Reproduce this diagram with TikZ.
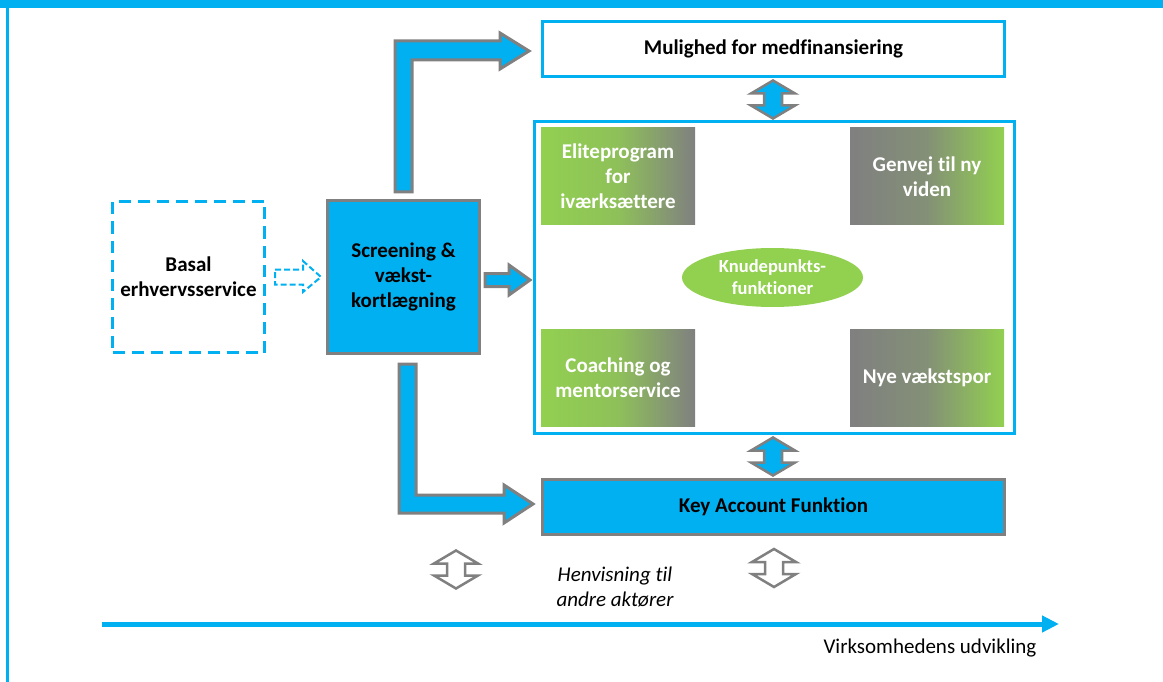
\documentclass[tikz,border=0pt]{standalone}
\usepackage{fontspec}
\setmainfont{Carlito}[Ligatures=NoCommon]
\usepackage{tikz}
\usetikzlibrary{positioning,shapes.geometric,arrows.meta,calc}
\definecolor{kblue}{HTML}{00B0F0}
\definecolor{kgreen}{HTML}{92D050}
\definecolor{kgray}{HTML}{808080}

\begin{document}
\begin{tikzpicture}[x=1pt, y=-1pt,
      box/.style={
        shape=rectangle,
        inner sep=2pt,
        align=center,
        font=\fontsize{21}{25}\selectfont\bfseries,
      },
      bluebox/.style={box, draw=kgray, line width=3pt, fill=kblue},
      framebox/.style={box, draw=kblue, line width=3pt, fill=white},
      dashbox/.style={box, draw=kblue, line width=2.5pt, dash pattern=on 12pt off 7pt},
      greenbox/.style={box, text=white, minimum width=154pt, minimum height=97pt,
        left color=kgreen, right color=kgray, middle color=kgreen!80!kgray},
      graybox/.style={box, text=white, minimum width=154pt, minimum height=97pt,
        left color=kgray, right color=kgreen, middle color=kgray!80!kgreen},
      hub/.style={ellipse, fill=kgreen, text=white, inner sep=0pt, align=center,
        minimum width=181pt, minimum height=59pt,
        font=\fontsize{18.5}{22}\selectfont\bfseries},
      blockarrow/.style={draw=kgray, fill=kblue, line width=3pt, line join=miter},
      dblarrow/.pic={
        \path[pic actions] (0,-19) -- (22,-6) -- (9,-6) -- (9,6) -- (22,6) -- (0,19)
          -- (-22,6) -- (-9,6) -- (-9,-6) -- (-22,-6) -- cycle;
      }]
      \useasboundingbox (0,0) rectangle (1163,682);
      % frame of the slide
      \fill[kblue] (0,0) rectangle (1163,8.5);
      \fill[kblue] (6,0) rectangle (9,682);

      % main boxes
      \node[dashbox, minimum width=152pt, minimum height=151pt] (basal) at (188.5,277)
        {Basal\\erhvervsservice};
      \node[bluebox, minimum width=152pt, minimum height=153pt] (scr) at (403.5,277)
        {Screening \&\\vækst-\\kortlægning};
      \node[framebox, minimum width=462pt, minimum height=55pt] (mul) at (773.5,49)
        {Mulighed for medfinansiering};
      \node[framebox, minimum width=480pt, minimum height=312pt] (frame) at (774.5,277.5) {};
      \node[bluebox, minimum width=462pt, minimum height=55pt] (key) at (773.5,507)
        {Key Account Funktion};

      % inside the hub
      \node[greenbox] (elite) at (618,176.5) {Eliteprogram\\for\\iværksættere};
      \node[graybox] (genvej) at (927,176.5) {Genvej til ny\\viden};
      \node[greenbox] (coach) at (618,377.5) {Coaching og\\mentorservice};
      \node[graybox] (spor) at (927,377.5) {Nye vækstspor};
      \node[hub] (knude) at (772.5,277.5) {Knudepunkts-\\funktioner};

      % block arrows
      \draw[blockarrow] (395,192) -- (395,41) -- (500,41) -- (500,33) -- (529,51)
        -- (500,69) -- (500,60) -- (412,60) -- (412,192) -- cycle;
      \draw[blockarrow] (399,364) -- (399,513) -- (504,513) -- (504,523) -- (533,504)
        -- (504,485) -- (504,495) -- (416,495) -- (416,364) -- cycle;
      \draw[blockarrow] (485,273.5) -- (509,273.5) -- (509,265) -- (530,280)
        -- (509,295) -- (509,286.5) -- (485,286.5) -- cycle;
      \draw[draw=kblue, fill=white, line width=2pt, dash pattern=on 6pt off 3pt]
        (275,269.5) -- (303,269.5) -- (303,261) -- (321,277) -- (303,292)
        -- (303,284.5) -- (275,284.5) -- cycle;

      \pic[draw=kgray, fill=kblue, line width=2.5pt] at (773,99.5) {dblarrow};
      \pic[draw=kgray, fill=kblue, line width=2.5pt] at (773,456.5) {dblarrow};
      \pic[draw=kgray, fill=white, line width=2.5pt] at (456,569.5) {dblarrow};
      \pic[draw=kgray, fill=white, line width=2.5pt] at (774,568) {dblarrow};

      % referral text and axis
      \node[align=center, font=\fontsize{21}{25}\selectfont\itshape] (henv) at (615,587)
        {Henvisning til\\andre aktører};
      \coordinate (axstart) at (102,624);
      \coordinate (axend) at (1059,624);
      \draw[kblue, line width=5pt, -{Triangle[length=17pt,width=16pt]}] (axstart) -- (axend);
      \node[font=\fontsize{21}{24}\selectfont] (udv) at (930,648) {Virksomhedens udvikling};
    \end{tikzpicture}
\end{document}
